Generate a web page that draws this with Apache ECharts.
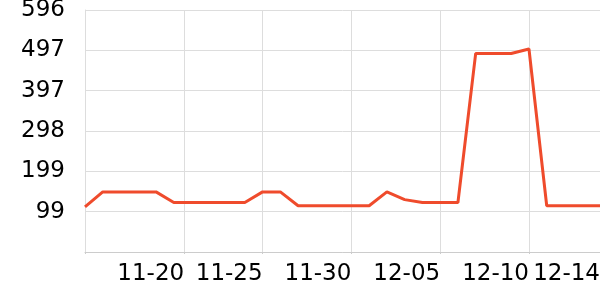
<!DOCTYPE html>
<html>
<head>
<meta charset="utf-8">
<script src="https://cdn.jsdelivr.net/npm/echarts@6/dist/echarts.min.js"></script>
<style>html,body{margin:0;padding:0;background:#fff;overflow:hidden}#c{width:600px;height:300px}</style>
</head>
<body>
<div id="c"></div>
<script>
var dates = ['2023-11-15','2023-11-16','2023-11-17','2023-11-18','2023-11-19','2023-11-20','2023-11-21','2023-11-22','2023-11-23','2023-11-24','2023-11-25','2023-11-26','2023-11-27','2023-11-28','2023-11-29','2023-11-30','2023-12-01','2023-12-02','2023-12-03','2023-12-04','2023-12-05','2023-12-06','2023-12-07','2023-12-08','2023-12-09','2023-12-10','2023-12-11','2023-12-12','2023-12-13','2023-12-14'];
var values = [111,148,148,148,148,122,122,122,122,122,148,148,114,114,114,114,114,148,129,122,122,122,489,489,489,500,114,114,114,114];
var tickDates = ['2023-11-15T00:00','2023-11-20T14:00','2023-11-25T00:00','2023-11-30T00:00','2023-12-05T00:00','2023-12-10T00:00'];
var labelDates = ['2023-11-20T14:00','2023-11-25T00:00','2023-11-30T00:00','2023-12-05T00:00','2023-12-10T00:00','2023-12-14T00:00'];
var yMax = 596;
var ySplits = 6;

function ts(s) { return echarts.time.parse(s).getTime(); }
function pad(n) { return (n < 10 ? '0' : '') + n; }
function mmdd(v) { var d = new Date(v); return pad(d.getMonth() + 1) + '-' + pad(d.getDate()); }

var chart = echarts.init(document.getElementById('c'));
chart.setOption({
  animation: false,
  grid: {left: 85, right: 0, top: 10, bottom: 48, containLabel: false, outerBoundsMode: 'none'},
  xAxis: {
    type: 'value',
    min: ts(dates[0]),
    max: ts(dates[dates.length - 1]),
    axisLine: {lineStyle: {color: '#ccc'}},
    axisTick: {show: true, length: 2, lineStyle: {color: '#ccc'}, customValues: tickDates.map(ts)},
    splitLine: {show: true, lineStyle: {color: '#ddd'}},
    axisLabel: {
      customValues: labelDates.map(ts),
      formatter: mmdd,
      color: '#000',
      fontSize: 23,
      fontFamily: 'DejaVu Sans',
      align: 'right',
      margin: 11,
      hideOverlap: false
    }
  },
  yAxis: {
    type: 'value',
    min: 0,
    max: yMax,
    interval: yMax / ySplits,
    axisLine: {show: true, lineStyle: {color: '#ddd'}},
    axisTick: {show: false},
    splitLine: {lineStyle: {color: '#ddd'}},
    axisLabel: {
      color: '#000',
      fontSize: 23,
      fontFamily: 'DejaVu Sans',
      margin: 20,
      formatter: function (v) { return v === 0 ? '' : String(Math.round(v)); }
    }
  },
  series: [{
    type: 'line',
    data: dates.map(function (d, i) { return [ts(d), values[i]]; }),
    showSymbol: false,
    clip: false,
    lineStyle: {color: '#ef4b2c', width: 3},
    itemStyle: {color: '#ef4b2c'}
  }]
});
</script>
</body>
</html>
